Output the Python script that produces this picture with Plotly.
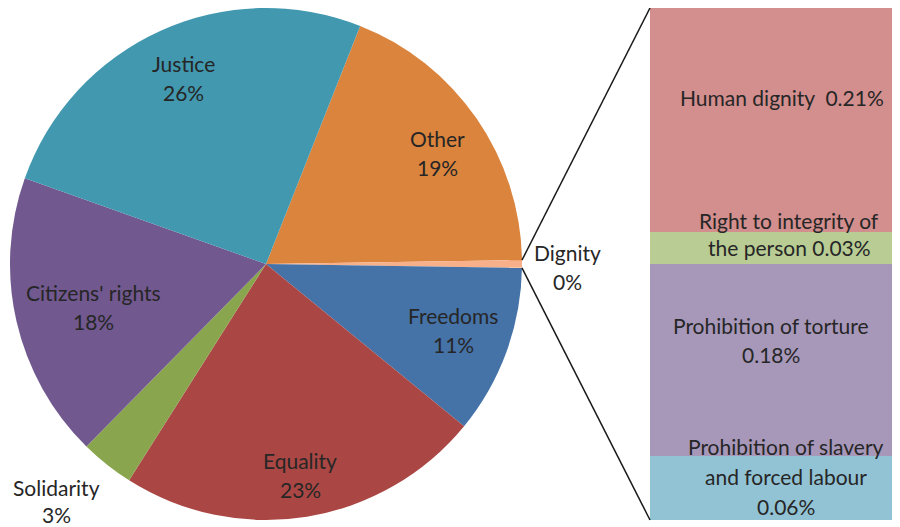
import math
import plotly.graph_objects as go

# Main pie: shares (%) in clockwise order starting from "Other"
pie_labels = ["Other", "Dignity", "Freedoms", "Equality", "Solidarity", "Citizens' rights", "Justice"]
pie_values = [18.8, 0.48, 10.7, 23.1, 3.4, 18.1, 25.6]
pie_colors = ["#DB843D", "#F8B08A", "#4572A7", "#AA4643", "#89A54E", "#71588F", "#4198AF"]

# Breakdown of "Dignity" (bottom to top of the bar)
bar_labels = ["Prohibition of slavery and forced labour", "Prohibition of torture",
              "Right to integrity of the person", "Human dignity"]
bar_values = [0.06, 0.18, 0.03, 0.21]
bar_colors = ["#92C3D4", "#A798BA", "#B8CC94", "#D38E8E"]

W, H = 900, 527
OFF = 8  # page body margin: the figure is drawn 8px in from the window corner
FONT = "Lato"
FS = 21
TXT = "#262626"


def px(x):
    return (x - OFF) / W


def py(y):
    return 1 - (y - OFF) / H


# pie geometry (window pixels)
cx, cy, r = 266, 264, 256
pie_dom_x = [px(cx - r), px(cx + r)]
pie_dom_y = [py(cy + r), py(cy - r)]

total = sum(pie_values)
dig_i = pie_labels.index("Dignity")
dig_half = pie_values[dig_i] / total * 360 / 2
# centre the Dignity slice on 3 o'clock
rotation = 90 - dig_half - sum(pie_values[:dig_i]) / total * 360

fig = go.Figure()
fig.add_trace(go.Pie(
    labels=pie_labels, values=pie_values, sort=False, direction="clockwise",
    rotation=rotation, marker=dict(colors=pie_colors, line=dict(width=0)),
    textinfo="none", hoverinfo="label+percent", showlegend=False,
    domain=dict(x=pie_dom_x, y=pie_dom_y),
))

for lab, val, col in zip(bar_labels, bar_values, bar_colors):
    fig.add_trace(go.Bar(
        x=[0], y=[val], name=lab, marker=dict(color=col, line=dict(width=0)),
        width=1, showlegend=False, hoverinfo="name+y",
    ))

bx0, by0, by1 = 650, 8, 520
fig.update_layout(
    width=W, height=H, barmode="stack",
    margin=dict(l=0, r=0, t=0, b=0),
    paper_bgcolor="white", plot_bgcolor="white",
    xaxis=dict(domain=[px(bx0), 1], range=[-0.5, 0.5], visible=False),
    yaxis=dict(domain=[py(by1), py(by0)], range=[0, sum(bar_values)], visible=False),
    font=dict(family=FONT, size=FS, color=TXT),
)

# connector lines from the Dignity slice edges to the bar corners
for sign, (qx, qy) in [(-1, (bx0, by0)), (1, (bx0, by1))]:
    ang = math.radians(90 + sign * dig_half)
    ex = cx + r * math.sin(ang)
    ey = cy - r * math.cos(ang)
    fig.add_shape(type="line", xref="paper", yref="paper",
                  x0=px(ex), y0=py(ey), x1=px(qx), y1=py(qy),
                  line=dict(color="#1a1a1a", width=1.5))


def label(lines, x, y, step=29):
    for k, t in enumerate(lines):
        fig.add_annotation(text=t, x=px(x), y=py(y + k * step), xref="paper", yref="paper",
                           showarrow=False, xanchor="center", yanchor="middle",
                           font=dict(family=FONT, size=FS, color=TXT))


pct = {l: f"{round(v / total * 100)}%" for l, v in zip(pie_labels, pie_values)}
label(["Justice", pct["Justice"]], 183, 64)
label(["Other", pct["Other"]], 437, 138)
label(["Citizens' rights", pct["Citizens' rights"]], 93, 292)
label(["Freedoms", pct["Freedoms"]], 453, 315)
label(["Equality", pct["Equality"]], 300, 460)
label(["Solidarity", pct["Solidarity"]], 56, 487, 27)
label(["Dignity", pct["Dignity"]], 567, 252)

label(["Human dignity\u00a0\u00a00.21%"], 782, 97)
label(["Right to integrity of", "the person 0.03%"], 789, 220, 28)
label(["Prohibition of torture", "0.18%"], 771, 325)
label(["Prohibition of slavery", "and forced labour", "0.06%"], 786, 446, 30)

fig.write_html("out.html")
